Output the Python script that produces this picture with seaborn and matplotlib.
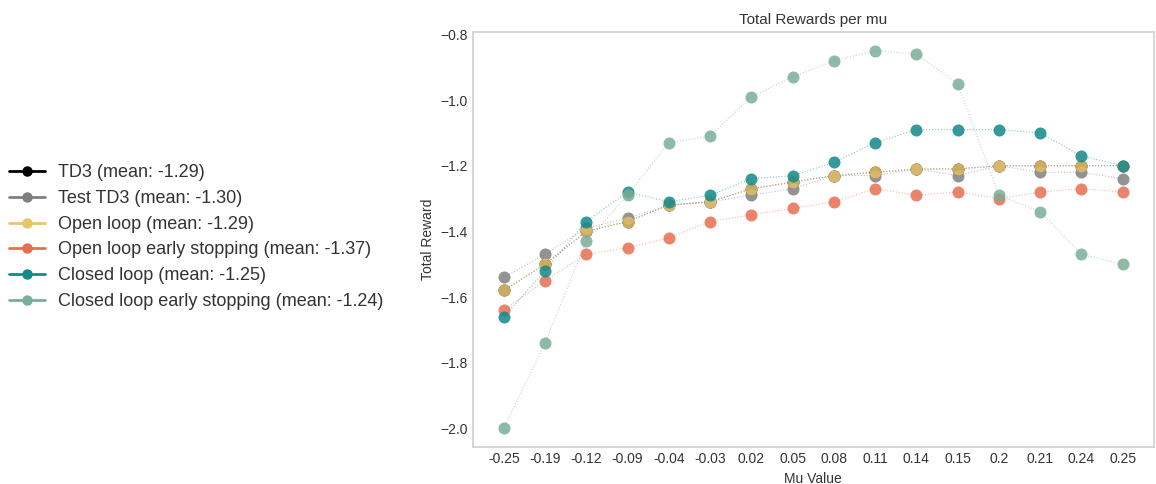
import matplotlib
matplotlib.use("Agg")
import matplotlib.pyplot as plt
from matplotlib.lines import Line2D
import numpy as np
import pandas as pd
import seaborn as sns

# Mu values evaluated (shown as categorical tick labels)
mu_labels = ["-0.25", "-0.19", "-0.12", "-0.09", "-0.04", "-0.03", "0.02", "0.05",
             "0.08", "0.11", "0.14", "0.15", "0.2", "0.21", "0.24", "0.25"]

# Total reward per mu for each controller
td3 = [-1.58, -1.50, -1.40, -1.37, -1.32, -1.31, -1.27, -1.25,
       -1.23, -1.22, -1.21, -1.21, -1.20, -1.20, -1.20, -1.20]
test_td3 = [-1.54, -1.47, -1.39, -1.36, -1.32, -1.31, -1.29, -1.27,
            -1.23, -1.23, -1.21, -1.23, -1.20, -1.22, -1.22, -1.24]
open_loop = [-1.58, -1.50, -1.40, -1.37, -1.32, -1.31, -1.27, -1.25,
             -1.23, -1.22, -1.21, -1.21, -1.20, -1.20, -1.20, -1.20]
open_loop_es = [-1.64, -1.55, -1.47, -1.45, -1.42, -1.37, -1.35, -1.33,
                -1.31, -1.27, -1.29, -1.28, -1.30, -1.28, -1.27, -1.28]
closed_loop = [-1.66, -1.52, -1.37, -1.28, -1.31, -1.29, -1.24, -1.23,
               -1.19, -1.13, -1.09, -1.09, -1.09, -1.10, -1.17, -1.20]
closed_loop_es = [-2.00, -1.74, -1.43, -1.29, -1.13, -1.11, -0.99, -0.93,
                  -0.88, -0.85, -0.86, -0.95, -1.29, -1.34, -1.47, -1.50]

series_names = ["TD3", "Test TD3", "Open loop", "Open loop early stopping",
                "Closed loop", "Closed loop early stopping"]
series_values = [td3, test_td3, open_loop, open_loop_es, closed_loop, closed_loop_es]
series_colors = ["#000000", "#808080", "#e9c46a", "#e76f51", "#12898a", "#7aae98"]

sns.set_style("whitegrid")
plt.rcParams["font.family"] = ["Liberation Sans", "DejaVu Sans"]
plt.rcParams["axes.unicode_minus"] = True

fig = plt.figure(figsize=(11.56, 4.84), dpi=100)
ax = fig.add_axes([0.409, 0.076, 0.589, 0.858])

handles = []
for name, vals, col in zip(series_names, series_values, series_colors):
    df = pd.DataFrame({"mu": mu_labels, "reward": vals})
    sns.lineplot(data=df, x="mu", y="reward", sort=False, ax=ax, color=col,
                 linewidth=0.8, linestyle=":", alpha=0.5)
    sns.scatterplot(data=df, x="mu", y="reward", ax=ax, color=col,
                    s=75, linewidth=0, alpha=0.85, zorder=3)
    mean = np.mean(vals)
    handles.append(Line2D([0], [0], color=col, lw=2, marker="o", markersize=6.5,
                          label=f"{name} (mean: {mean:.2f})"))

ax.grid(False)
for sp in ax.spines.values():
    sp.set_color("#d0d0d0")
    sp.set_linewidth(1.2)

ax.set_title("Total Rewards per mu", fontsize=11, color="#333333")
ax.set_xlabel("Mu Value", fontsize=10, color="#333333")
ax.set_ylabel("Total Reward", fontsize=10, color="#333333")
ax.tick_params(axis="both", labelsize=10, colors="#333333", length=0)
ax.set_yticks([-2.0, -1.8, -1.6, -1.4, -1.2, -1.0, -0.8])

fig.legend(handles=handles, loc="center left", bbox_to_anchor=(-0.006, 0.51),
           frameon=False, fontsize=13, handlelength=2.0, handletextpad=0.7,
           labelspacing=0.48, labelcolor="#333333")

fig.savefig("out.png", dpi=100)
